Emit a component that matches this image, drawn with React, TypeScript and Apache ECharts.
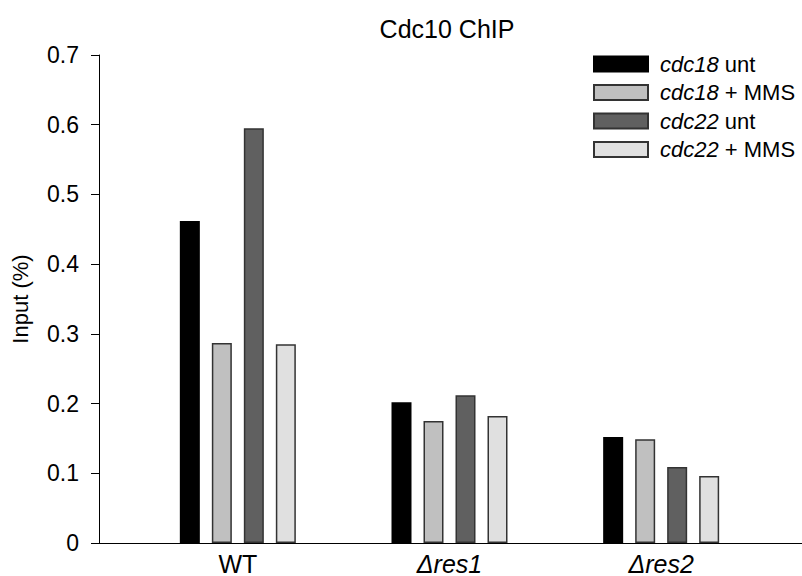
import React, { useEffect, useRef } from "react";
import * as echarts from "echarts";

const categories = ["WT", "Δres1", "Δres2"];
const seriesNames = ["cdc18 unt", "cdc18 + MMS", "cdc22 unt", "cdc22 + MMS"];
const cdc18Unt = [0.462, 0.202, 0.152];
const cdc18Mms = [0.287, 0.175, 0.149];
const cdc22Unt = [0.595, 0.212, 0.109];
const cdc22Mms = [0.285, 0.182, 0.096];
const seriesValues = [cdc18Unt, cdc18Mms, cdc22Unt, cdc22Mms];
const seriesColors = ["#000000", "#c0c0c0", "#606060", "#e0e0e0"];
const borderColors = ["#000000", "#333333", "#333333", "#333333"];
const titleText = "Cdc10 ChIP";
const yAxisName = "Input (%)";

const FONT = "Arial, 'Liberation Sans', Helvetica, sans-serif";

export default function App() {
  const ref = useRef<HTMLDivElement>(null);
  useEffect(() => {
    document.body.style.margin = "0";
    if (!ref.current) return;
    const chart = echarts.init(ref.current, null, { renderer: "svg" });
    chart.setOption({
      animation: false,
      backgroundColor: "#ffffff",
      textStyle: { fontFamily: FONT },
      title: {
        text: titleText,
        left: 442,
        top: 11,
        textAlign: "center",
        textStyle: { fontSize: 25, fontWeight: "normal", color: "#000", fontFamily: FONT },
      },
      legend: {
        orient: "vertical",
        left: 593,
        top: 53,
        padding: 0,
        itemWidth: 54,
        itemHeight: 15,
        itemGap: 6.5,
        icon: "rect",
        data: seriesNames,
        formatter: (name: string) => {
          const idx = name.indexOf(" ");
          return `{i|${name.slice(0, idx)}}${name.slice(idx)}`;
        },
        textStyle: {
          fontSize: 22,
          color: "#000",
          fontFamily: FONT,
          padding: [0, 0, 0, 7],
          rich: { i: { fontStyle: "italic", fontSize: 22, color: "#000", fontFamily: FONT } },
        },
      },
      grid: { left: 132, right: 35, top: 55, bottom: 33, containLabel: false },
      xAxis: {
        type: "category",
        data: categories,
        axisLine: { show: false },
        axisTick: { show: false },
        axisLabel: {
          fontSize: 25,
          color: "#000",
          margin: 8,
          fontFamily: FONT,
          formatter: (v: string) => (v === "WT" ? v : `{i|${v}}`),
          rich: { i: { fontStyle: "italic", fontSize: 25, color: "#000", fontFamily: FONT } },
        },
      },
      yAxis: {
        type: "value",
        min: 0,
        max: 0.7,
        interval: 0.1,
        offset: 33,
        name: yAxisName,
        nameLocation: "middle",
        nameGap: 68,
        nameTextStyle: { fontSize: 22, color: "#000", fontFamily: FONT },
        axisLine: { show: true, lineStyle: { color: "#000", width: 1 } },
        axisTick: { show: true, length: 8, lineStyle: { color: "#000" } },
        splitLine: { show: false },
        axisLabel: {
          fontSize: 23,
          color: "#000",
          margin: 20,
          fontFamily: FONT,
          formatter: (v: number) => (v === 0 ? "0" : v.toFixed(1)),
        },
      },
      graphic: [
        {
          type: "line",
          shape: { x1: 99, y1: 543.5, x2: 802, y2: 543.5 },
          style: { stroke: "#000", lineWidth: 1 },
          z: 10,
        },
      ],
      series: seriesNames.map((name, i) => ({
        name,
        type: "bar",
        data: seriesValues[i],
        barWidth: 20,
        barGap: "60%",
        itemStyle: { color: seriesColors[i], borderColor: borderColors[i], borderWidth: 1.5 },
      })),
    });
    return () => chart.dispose();
  }, []);
  return <div ref={ref} style={{ width: 802, height: 576 }} />;
}
